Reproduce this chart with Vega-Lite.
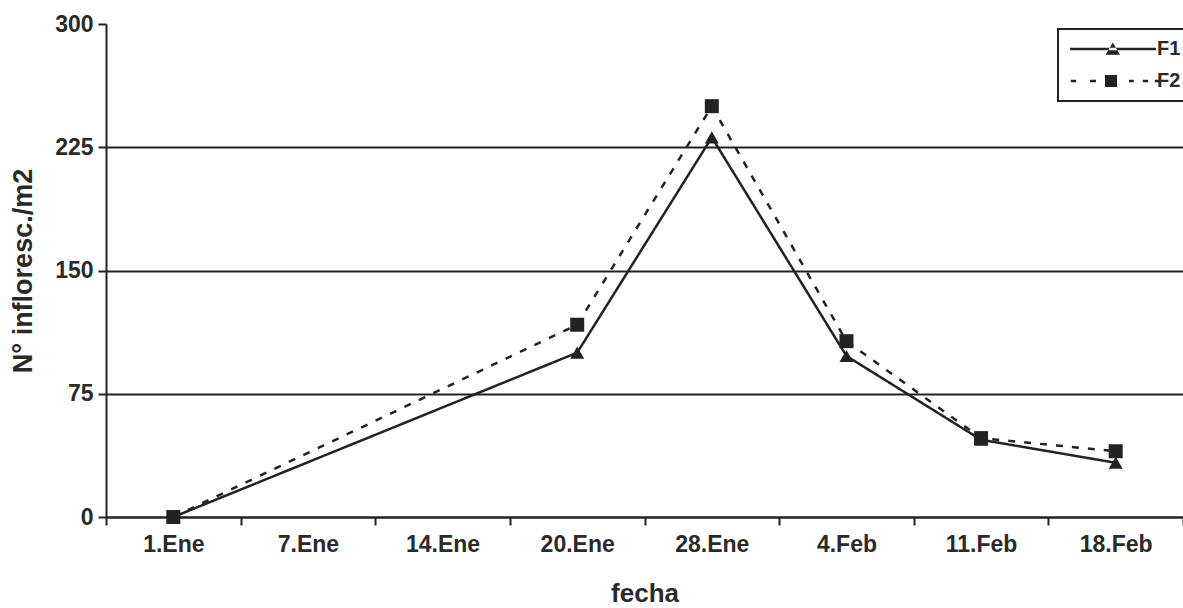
{
  "$schema": "https://vega.github.io/schema/vega-lite/v6.json",
  "width": 1077,
  "height": 493,
  "autosize": {"type": "none"},
  "padding": {"left": 106, "top": 24, "right": 0, "bottom": 91},
  "background": "white",
  "config": {"view": {"stroke": null}, "font": "Liberation Sans", "legend": {"strokeWidth": 2}},
  "data": {
    "values": [
      {"fecha": "1.Ene", "serie": "F1", "valor": 0},
      {"fecha": "20.Ene", "serie": "F1", "valor": 100},
      {"fecha": "28.Ene", "serie": "F1", "valor": 231},
      {"fecha": "4.Feb", "serie": "F1", "valor": 98},
      {"fecha": "11.Feb", "serie": "F1", "valor": 47},
      {"fecha": "18.Feb", "serie": "F1", "valor": 33},
      {"fecha": "1.Ene", "serie": "F2", "valor": 0},
      {"fecha": "20.Ene", "serie": "F2", "valor": 117},
      {"fecha": "28.Ene", "serie": "F2", "valor": 250},
      {"fecha": "4.Feb", "serie": "F2", "valor": 107},
      {"fecha": "11.Feb", "serie": "F2", "valor": 48},
      {"fecha": "18.Feb", "serie": "F2", "valor": 40}
    ]
  },
  "encoding": {
    "x": {
      "field": "fecha",
      "type": "ordinal",
      "sort": null,
      "scale": {
        "type": "band",
        "domain": ["1.Ene", "7.Ene", "14.Ene", "20.Ene", "28.Ene", "4.Feb", "11.Feb", "18.Feb"],
        "paddingInner": 0,
        "paddingOuter": 0
      },
      "axis": {
        "title": "fecha",
        "labelAngle": 0,
        "tickBand": "extent",
        "grid": false,
        "domainColor": "#222",
        "domainWidth": 2,
        "tickColor": "#222",
        "tickWidth": 2,
        "tickSize": 8,
        "labelFontSize": 23,
        "labelFontWeight": "bold",
        "labelColor": "#2a2a2a",
        "labelPadding": 8,
        "titleFontSize": 26,
        "titleFontWeight": "bold",
        "titleColor": "#2a2a2a",
        "titlePadding": 24
      }
    },
    "y": {
      "field": "valor",
      "type": "quantitative",
      "scale": {"domain": [0, 300], "nice": false},
      "axis": {
        "title": "N° infloresc./m2",
        "values": [0, 75, 150, 225, 300],
        "grid": true,
        "gridColor": "#222",
        "gridWidth": 2,
        "gridOpacity": {"condition": {"test": "datum.value >= 300", "value": 0}, "value": 1},
        "domainColor": "#222",
        "domainWidth": 2,
        "tickColor": "#222",
        "tickWidth": 2,
        "tickSize": 8,
        "labelFontSize": 23,
        "labelFontWeight": "bold",
        "labelColor": "#2a2a2a",
        "labelPadding": 5,
        "titleFontSize": 27,
        "titleFontWeight": "bold",
        "titleColor": "#2a2a2a",
        "titlePadding": 17
      }
    }
  },
  "resolve": {
    "scale": {"shape": "independent"},
    "legend": {"shape": "independent", "strokeDash": "independent"}
  },
  "layer": [
    {
      "mark": {"type": "line", "color": "#222", "strokeWidth": 2.5},
      "encoding": {
        "strokeDash": {
          "field": "serie",
          "type": "nominal",
          "scale": {"domain": ["F1", "F2"], "range": [[1, 0], [7, 9]]},
          "legend": null
        }
      }
    },
    {
      "mark": {"type": "point", "filled": true, "color": "#222", "size": 196, "opacity": 1},
      "encoding": {
        "shape": {
          "field": "serie",
          "type": "nominal",
          "scale": {"domain": ["F1", "F2"], "range": ["triangle-up", "square"]},
          "legend": null
        }
      }
    },
    {
      "mark": {"type": "point", "fill": "#222", "stroke": "#222", "strokeWidth": 2, "size": 144, "opacity": 0},
      "encoding": {
        "shape": {
          "field": "serie",
          "type": "nominal",
          "scale": {
            "domain": ["F1", "F2"],
            "range": [
              "M-6.8,-0.2L7.5,-0.2L7.5,0.2L-6.8,0.2ZM0.3,-1.1L-0.9,0.95L1.5,0.95Z",
              "M-6.7,-0.2L-5.8,-0.2L-5.8,0.2L-6.7,0.2ZM-3.5,-0.2L-2.5,-0.2L-2.5,0.2L-3.5,0.2ZM-1,-1L1,-1L1,1L-1,1ZM3,-0.2L3.8,-0.2L3.8,0.2L3,0.2ZM5.3,-0.2L6.2,-0.2L6.2,0.2L5.3,0.2ZM7.3,-0.2L8.2,-0.2L8.2,0.2L7.3,0.2Z"
            ]
          },
          "legend": {
            "title": null,
            "orient": "none",
            "legendX": 952,
            "legendY": 5,
            "fillColor": "white",
            "strokeColor": "#222",
            "padding": 10,
            "rowPadding": 12,
            "symbolSize": 144,
            "symbolOpacity": 1,
            "symbolFillColor": "#222",
            "symbolStrokeColor": "#222",
            "symbolStrokeWidth": 2,
            "symbolOffset": 33,
            "labelOffset": 36,
            "labelFontSize": 20,
            "labelFontWeight": "bold",
            "labelColor": "#2a2a2a"
          }
        }
      }
    }
  ]
}
